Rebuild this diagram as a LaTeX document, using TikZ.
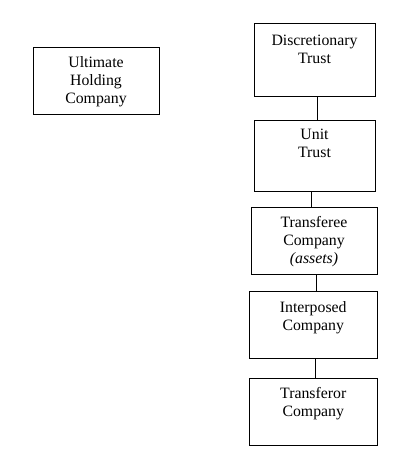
\documentclass[tikz,border=0pt]{standalone}
\usepackage{fontspec}
\setmainfont{Liberation Serif}
\begin{document}
\begin{tikzpicture}[x=1pt,y=1pt,
  box/.style={draw=black, line width=0.9pt, inner sep=0pt, minimum width=#1},
  lbl/.style={anchor=north, inner sep=0pt, align=center, font=\fontsize{15.8}{18}\selectfont},
  conn/.style={draw=black, line width=0.9pt}]
\useasboundingbox (0,0) rectangle (411,-465);
\node[box=126, minimum height=67] (uhc) at (96,-80.5) {};
\node[box=121, minimum height=73] (disc) at (314.5,-59.5) {};
\node[box=121, minimum height=71] (unit) at (314.5,-155.5) {};
\node[box=126, minimum height=67] (tfee) at (314,-240.5) {};
\node[box=127.5, minimum height=67] (intp) at (313.25,-325) {};
\node[box=127.5, minimum height=67] (tfor) at (313.25,-411.5) {};
\node[lbl] (uhct) at ([yshift=-9.5]uhc.north) {Ultimate\\Holding\\Company};
\node[lbl] (disct) at ([yshift=-12.5]disc.north) {Discretionary\\Trust};
\node[lbl] (unitt) at ([yshift=-9.5]unit.north) {Unit\\Trust};
\node[lbl] (tfeet) at ([yshift=-9.5]tfee.north) {Transferee\\Company\\\textit{(assets)}};
\node[lbl] (intpt) at ([yshift=-10]intp.north) {Interposed\\Company};
\node[lbl] (tfort) at ([yshift=-10]tfor.north) {Transferor\\Company};
\draw[conn] ([xshift=2.5]disc.south) -- ([xshift=2.5]disc.south |- unit.north);
\draw[conn] ([xshift=-3.5]unit.south) -- ([xshift=-3.5]unit.south |- tfee.north);
\draw[conn] ([xshift=2.5]tfee.south) -- ([xshift=2.5]tfee.south |- intp.north);
\draw[conn] ([xshift=2]intp.south) -- ([xshift=2]intp.south |- tfor.north);
\end{tikzpicture}
\end{document}
